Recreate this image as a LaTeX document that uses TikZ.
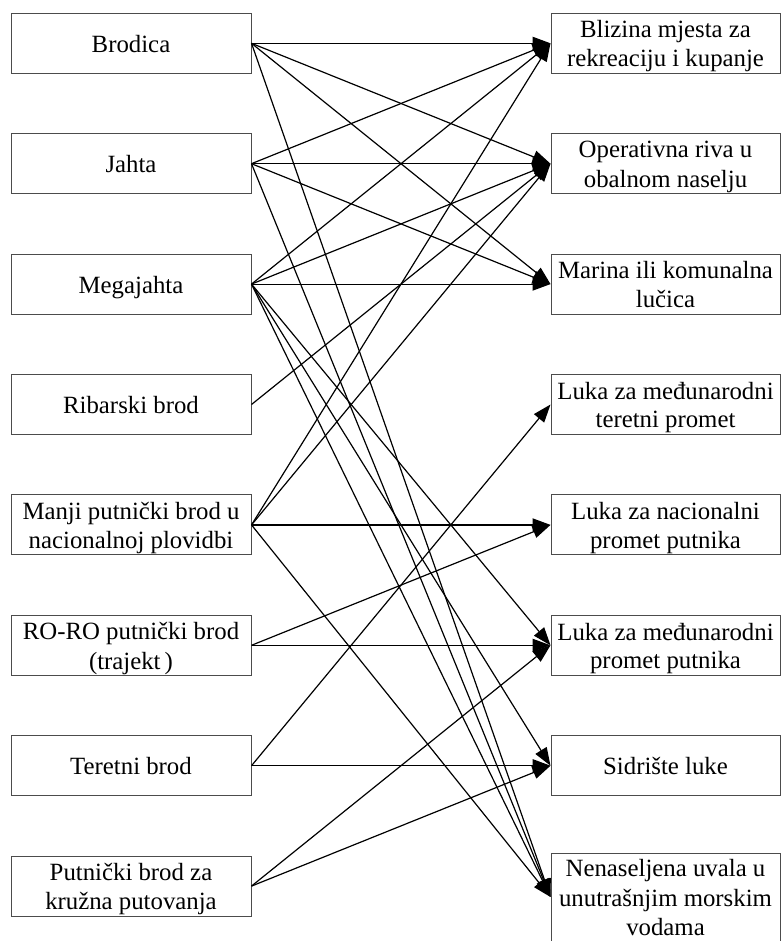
\documentclass[tikz,border=0pt]{standalone}
\usepackage{fontspec}
\setmainfont{Liberation Serif}
\usetikzlibrary{arrows.meta}
\newcommand\ls{\rule[-5.2pt]{0pt}{28.4pt}}
\begin{document}
\begin{tikzpicture}[x=1pt,y=-1pt,
  box/.style={draw=black!70, line width=1pt, minimum width=240pt, minimum height=60pt,
    inner sep=0pt, align=center, font=\fontsize{24.8}{28.4}\selectfont},
  rbox/.style={box, minimum width=229pt},
  link/.style={line width=1.2pt, -{Triangle[length=18pt,width=13pt]}}]
\useasboundingbox (0,0) rectangle (781,941);
% left column
\node[box] (l1) at (131,43.3)  {\ls Brodica};
\node[box] (l2) at (131,163.7) {\ls Jahta};
\node[box] (l3) at (131,284.1) {\ls Megajahta};
\node[box] (l4) at (131,404.5) {\ls Ribarski brod};
\node[box] (l5) at (131,524.9) {\ls Manji putnički brod u\\\ls nacionalnoj plovidbi};
\node[box] (l6) at (131,645.3) {\ls RO-RO putnički brod\\\ls (trajekt\,)};
\node[box] (l7) at (131,765.7) {\ls Teretni brod};
\node[box] (l8) at (131,886.1) {\ls Putnički brod za\\\ls kružna putovanja};
% right column
\node[rbox] (r1) at (665.5,43.3)  {\ls Blizina mjesta za\\\ls rekreaciju i kupanje};
\node[rbox] (r2) at (665.5,163.7) {\ls Operativna riva u\\\ls obalnom naselju};
\node[rbox] (r3) at (665.5,284.1) {\ls Marina ili komunalna\\\ls lučica};
\node[rbox] (r4) at (665.5,404.5) {\ls Luka za međunarodni\\\ls teretni promet};
\node[rbox] (r5) at (665.5,524.9) {\ls Luka za nacionalni\\\ls promet putnika};
\node[rbox] (r6) at (665.5,645.3) {\ls Luka za međunarodni\\\ls promet putnika};
\node[rbox] (r7) at (665.5,765.7) {\ls Sidrište luke};
\node[rbox, minimum height=88pt] (r8) at (665.5,897) {\ls Nenaseljena uvala u\\\ls unutrašnjim morskim\\\ls vodama};
% connectors
\foreach \a/\b in {l1/r1, l1/r2, l1/r3, l1/r8,
                   l2/r1, l2/r2, l2/r3, l2/r8,
                   l3/r1, l3/r2, l3/r3, l3/r6, l3/r7, l3/r8,
                   l4/r2,
                   l5/r1, l5/r2, l5/r5, l5/r8,
                   l6/r5, l6/r6,
                   l7/r4, l7/r7,
                   l8/r6, l8/r7}
  \draw[link] (\a.east) -- (\b.west);
\end{tikzpicture}
\end{document}
